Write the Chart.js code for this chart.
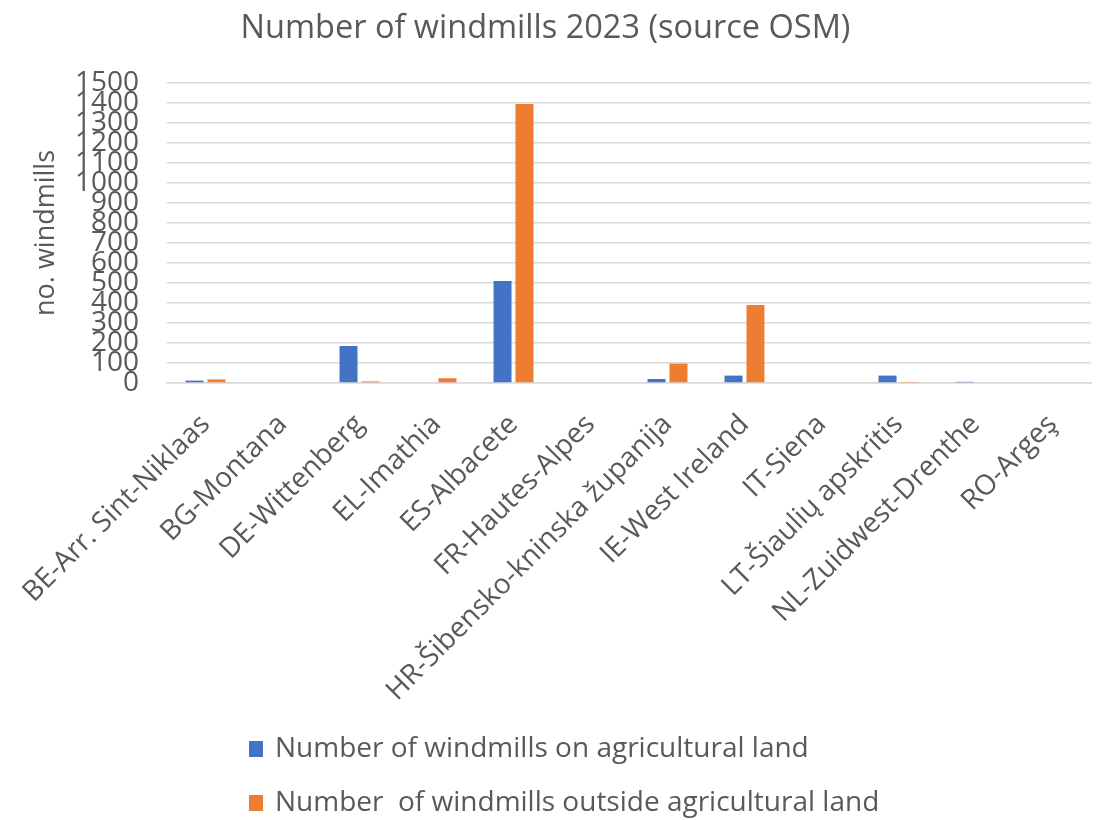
<!DOCTYPE html>
<html>
<head>
<meta charset="utf-8">
<script src="https://cdn.jsdelivr.net/npm/chart.js@4"></script>
<style>
html,body{margin:0;padding:0;background:#fff;}
#wrap{width:1101px;height:820px;position:relative;}
</style>
</head>
<body>
<div id="wrap"><canvas id="c" width="1101" height="820"></canvas></div>
<script>
const categories = ["BE-Arr. Sint-Niklaas","BG-Montana","DE-Wittenberg","EL-Imathia","ES-Albacete","FR-Hautes-Alpes","HR-Šibensko-kninska županija","IE-West Ireland","IT-Siena","LT-Šiaulių apskritis","NL-Zuidwest-Drenthe","RO-Argeş"];
const onAgricultural = [12,0,185,0,510,0,20,37,0,37,6,0];
const outsideAgricultural = [18,0,8,24,1395,0,97,390,0,2,0,0];
const seriesLabels = ["Number of windmills on agricultural land","Number  of windmills outside agricultural land"];
const yTicks = [0,100,200,300,400,500,600,700,800,900,1000,1100,1200,1300,1400,1500];
const titleText = "Number of windmills 2023 (source OSM)";
const yTitle = "no. windmills";

const TXT = '#595959';
const FONT = "'Open Sans', sans-serif";

const legendPlugin = {
  id: 'stackLegend',
  afterDraw(chart) {
    const ctx = chart.ctx;
    ctx.save();
    ctx.font = "28px " + FONT;
    ctx.textBaseline = 'middle';
    ctx.textAlign = 'left';
    const ys = [749, 803];
    chart.data.datasets.forEach((ds, i) => {
      ctx.fillStyle = ds.backgroundColor;
      ctx.fillRect(249, ys[i] - 8, 14, 16);
      ctx.fillStyle = TXT;
      ctx.fillText(ds.label, 275, ys[i]);
    });
    ctx.restore();
  }
};

new Chart(document.getElementById('c'), {
  type: 'bar',
  data: {
    labels: categories,
    datasets: [
      { label: seriesLabels[0], data: onAgricultural, backgroundColor: '#4472C4', barPercentage: 0.82, categoryPercentage: 0.57 },
      { label: seriesLabels[1], data: outsideAgricultural, backgroundColor: '#ED7D31', barPercentage: 0.82, categoryPercentage: 0.57 }
    ]
  },
  options: {
    responsive: false,
    animation: false,
    layout: { padding: { left: 0, right: 10, top: 0, bottom: 0 } },
    plugins: {
      legend: { display: false },
      tooltip: { enabled: false },
      title: {
        display: true,
        text: titleText,
        color: TXT,
        font: { family: FONT, size: 32.5, weight: 'normal' },
        padding: { top: 9, bottom: 35 }
      }
    },
    scales: {
      x: {
        grid: { display: false },
        border: { display: true, color: '#d9d9d9', width: 1.5 },
        ticks: {
          color: TXT,
          font: { family: FONT, size: 28 },
          minRotation: 45, maxRotation: 45,
          autoSkip: false,
          padding: 17
        },
        afterFit(scale) { scale.height = 437; }
      },
      y: {
        min: 0, max: 1500,
        afterBuildTicks(scale) { scale.ticks = yTicks.map(v => ({ value: v })); },
        grid: { color: '#d9d9d9', lineWidth: 1.5, drawTicks: false },
        border: { display: false },
        ticks: {
          color: TXT,
          font: { family: FONT, size: 28 },
          autoSkip: false,
          padding: 28,
          callback: (v) => String(v)
        },
        title: {
          display: true,
          text: yTitle,
          color: TXT,
          font: { family: FONT, size: 27, weight: 'normal' },
          padding: { top: 30, bottom: 0 }
        },
        afterFit(scale) { scale.width = 167; }
      }
    }
  },
  plugins: [legendPlugin]
});
</script>
</body>
</html>
